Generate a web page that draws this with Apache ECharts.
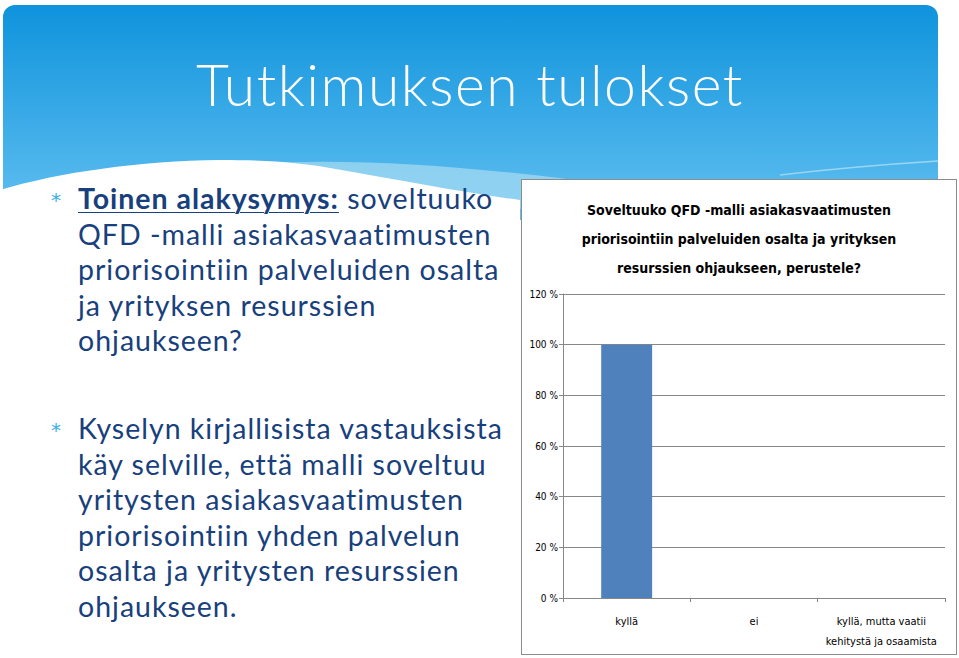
<!DOCTYPE html>
<html>
<head>
<meta charset="utf-8">
<script src="https://cdn.jsdelivr.net/npm/echarts@6/dist/echarts.min.js"></script>
<style>
  html, body { margin: 0; padding: 0; background: #fff; }
  #slide { position: relative; width: 959px; height: 658px; overflow: hidden; background: #fff; }
  #bg { position: absolute; left: 0; top: 0; }
  #title { position: absolute; left: 0; top: 44px; width: 940px; text-align: center; color: #fff;
    font-family: Lato, "Open Sans", sans-serif; font-weight: 300; font-size: 57px; letter-spacing: 1.5px; line-height: 80px; }
  .para { position: absolute; left: 78px; color: #17407c; font-family: Lato, "Open Sans", sans-serif;
    font-size: 28.5px; letter-spacing: 1px; line-height: 35.5px; white-space: nowrap; }
  .para b { font-weight: 700; text-decoration: underline; text-decoration-thickness: 1px; text-underline-offset: 3px; }
  .bullet { position: absolute; left: 51px; color: #3aaee6; font-family: "DejaVu Sans", sans-serif; font-size: 20px; }
  #chart { position: absolute; left: 521px; top: 179px; width: 436px; height: 476px;
    border: 1px solid #8c8c8c; box-sizing: border-box; background: #fff; }
</style>
</head>
<body>
<div id="slide">
  <svg id="bg" width="959" height="658">
    <defs>
      <linearGradient id="sky" x1="0" y1="0" x2="0" y2="1">
        <stop offset="0" stop-color="#0f93dc"/>
        <stop offset="1" stop-color="#62c0f1"/>
      </linearGradient>
    </defs>
    <rect x="3" y="5" width="935" height="215" rx="12" fill="url(#sky)"/>
    <path d="M250,164 C340,158 440,164 560,178 L700,200 L300,220 Z" fill="#a8dbf2" opacity="0.7"/>
    <path d="M780,175 C840,168 890,164 938,161" stroke="#9ad6f3" stroke-width="1.5" fill="none"/>
    <path d="M0,190 C60,172 140,161 220,160 C270,160 300,163 330,168 C400,180 460,192 520,200 L520,658 L0,658 Z" fill="#fff"/>
  </svg>
  <div id="title">Tutkimuksen tulokset</div>

  <div class="bullet" style="top:188px">*</div>
  <div class="para" style="top:181px"><b>Toinen alakysymys:</b> soveltuuko<br>QFD -malli asiakasvaatimusten<br>priorisointiin palveluiden osalta<br>ja yrityksen resurssien<br>ohjaukseen?</div>

  <div class="bullet" style="top:418px">*</div>
  <div class="para" style="top:411px">Kyselyn kirjallisista vastauksista<br>käy selville, että malli soveltuu<br>yritysten asiakasvaatimusten<br>priorisointiin yhden palvelun<br>osalta ja yritysten resurssien<br>ohjaukseen.</div>

  <div id="chart"></div>
</div>
<script>
  // kysymyksen vastaukset (osuus vastaajista, %)
  var categories = ['kyllä', 'ei', 'kyllä, mutta vaatii\nkehitystä ja osaamista'];
  var shares = [100, 0, 0];
  var chartTitle = 'Soveltuuko QFD -malli asiakasvaatimusten\npriorisointiin palveluiden osalta ja yrityksen\nresurssien ohjaukseen, perustele?';

  var narrow = '"DejaVu Sans Condensed", "Liberation Sans Narrow", sans-serif';
  var grey = '#878787';

  var chart = echarts.init(document.getElementById('chart'), null, { renderer: 'svg' });
  chart.setOption({
    animation: false,
    title: {
      text: chartTitle,
      left: 'center',
      top: 10,
      textStyle: { fontFamily: narrow, fontSize: 14, fontWeight: 'bold', color: '#000', lineHeight: 29 }
    },
    grid: { left: 41, right: 11, top: 114, bottom: 56 },
    xAxis: {
      type: 'category',
      data: categories,
      axisLine: { lineStyle: { color: grey } },
      axisTick: { show: true, interval: 0, length: 4, lineStyle: { color: grey } },
      axisLabel: { interval: 0, margin: 13, fontFamily: narrow, fontSize: 11, color: '#000', lineHeight: 20 }
    },
    yAxis: {
      type: 'value',
      min: 0,
      max: 120,
      interval: 20,
      axisLine: { show: true, lineStyle: { color: grey } },
      axisTick: { show: true, length: 4, lineStyle: { color: grey } },
      splitLine: { lineStyle: { color: grey } },
      axisLabel: { formatter: '{value} %', margin: 5, fontFamily: narrow, fontSize: 10, color: '#000' }
    },
    series: [{
      type: 'bar',
      data: shares,
      barWidth: '40%',
      itemStyle: { color: '#4f81bd' }
    }]
  });
</script>
</body>
</html>
